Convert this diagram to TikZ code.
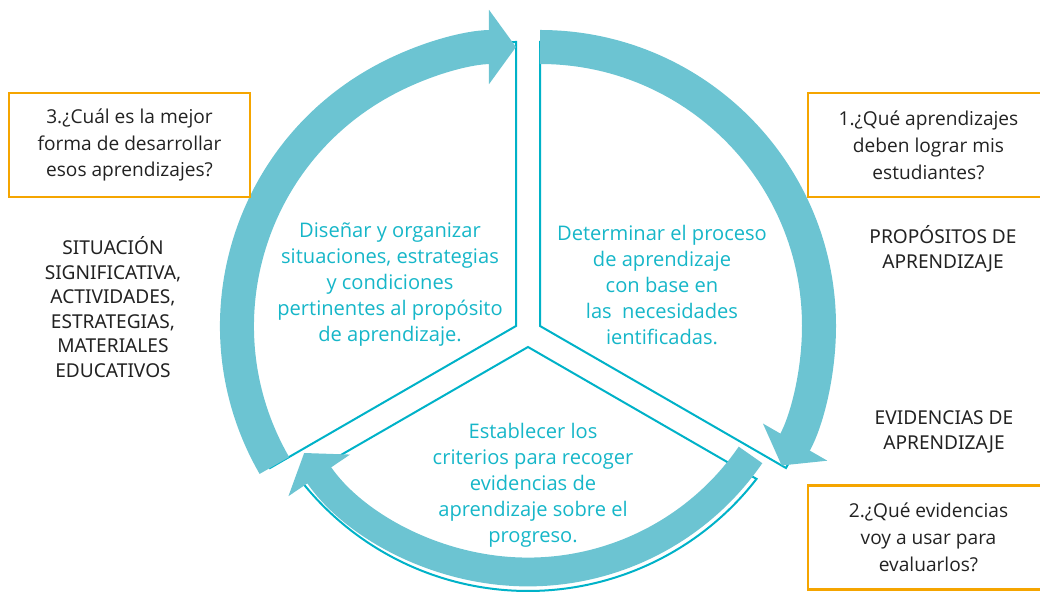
\documentclass[tikz,border=0pt]{standalone}
\usepackage{fontspec}
\setmainfont{Open Sans}
\newfontfamily\capsfont{Noto Sans}
\usetikzlibrary{arrows.meta,calc}

\definecolor{bandblue}{RGB}{108,196,210}
\definecolor{linecyan}{RGB}{0,178,200}
\definecolor{textcyan}{RGB}{22,182,200}
\definecolor{qorange}{RGB}{245,165,0}
\definecolor{ink}{RGB}{34,34,34}

\tikzset{
  band/.style={bandblue, line width=0.85cm, -{Triangle[length=0.675cm,width=1.825cm]}},
  sector/.style={linecyan, line width=0.05cm},
  question/.style={draw=qorange, line width=0.065cm, minimum width=6.025cm,
    minimum height=2.6cm, align=center, text=ink, font=\fontsize{13.6}{19.1}\selectfont},
  phase/.style={text=textcyan, align=center, font=\fontsize{14.3}{18.5}\selectfont},
  outcome/.style={text=ink, align=center, font=\capsfont\fontsize{13.6}{17.4}\selectfont}
}

\begin{document}
\begin{tikzpicture}[x=0.025cm, y=0.025cm]
  \useasboundingbox (0,0) rectangle (1040,592);
  \clip (0,0) rectangle (1040,592);

  % vertices of the three sectors
  \coordinate (A) at (516,266);
  \coordinate (B) at (540,266);
  \coordinate (C) at (528,245);
  \coordinate (O) at (528,290);

  % sectors
  \draw[sector] (A) -- ++(90:284) arc[start angle=90, end angle=210, radius=284] -- cycle;
  \draw[sector] (B) -- ++(-30:284) arc[start angle=-30, end angle=90, radius=284] -- cycle;
  \draw[sector] (C) -- ($(O)+(-37.75:289)$) arc[start angle=-37.75, end angle=-142.25, radius=289] -- cycle;

  % cycle arrows
  \draw[band] (A) ++(210:279) arc[start angle=210, end angle=90, radius=279];
  \draw[band] (B) ++(90:279) arc[start angle=90, end angle=-30, radius=279];
  \draw[band, line width=0.72cm] (O) ++(-34.5:270) arc[start angle=-34.5, end angle=-146, radius=270];

  % texts inside the cycle
  \node[phase] (design) at (390,307) {Diseñar y organizar\\situaciones, estrategias\\y condiciones\\pertinentes al propósito\\de aprendizaje.};
  \node[phase] (process) at (662,307) {Determinar el proceso\\de aprendizaje\\con base en\\las~ necesidades\\ientificadas.};
  \node[phase] (criteria) at (533,107) {Establecer los\\criterios para recoger\\evidencias de\\aprendizaje sobre el\\progreso.};

  % questions
  \node[question] (q1) at (928.5,447) {1.¿Qué aprendizajes\\deben lograr mis\\estudiantes?};
  \node[question] (q2) at (928.5,54.5) {2.¿Qué evidencias\\voy a usar para\\evaluarlos?};
  \node[question] (q3) at (129.5,447) {3.¿Cuál es la mejor\\forma de desarrollar\\esos aprendizajes?};

  % outcomes
  \node[outcome] (purpose) at (943,343) {PROPÓSITOS DE\\APRENDIZAJE};
  \node[outcome] (evidence) at (944,160) {EVIDENCIAS DE\\APRENDIZAJE};
  \node[outcome] (situation) at (113,285) {SITUACIÓN\\SIGNIFICATIVA,\\ACTIVIDADES,\\ESTRATEGIAS,\\MATERIALES\\EDUCATIVOS};
\end{tikzpicture}
\end{document}
